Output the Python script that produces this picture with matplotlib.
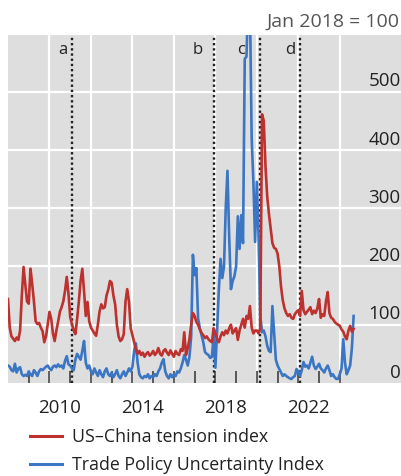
import numpy as np
import matplotlib
matplotlib.use("Agg")
import matplotlib.pyplot as plt
from matplotlib.lines import Line2D

plt.rcParams['font.family'] = ['Open Sans', 'DejaVu Sans']

# Monthly data, Jan 2008 onward (Jan 2018 = 100)
start_year = 2008
tension = [
    # 2008
    144, 95, 80, 76, 72, 78, 74, 90, 150, 199, 170, 140,
    # 2009
    136, 196, 170, 140, 106, 101, 103, 95, 89, 70, 80, 101,
    # 2010
    122, 110, 85, 72, 90, 105, 122, 130, 140, 158, 182, 153,
    # 2011
    113, 101, 90, 84, 110, 140, 175, 196, 158, 115, 139, 106,
    # 2012
    95, 90, 85, 81, 100, 123, 135, 128, 130, 150, 160, 175,
    # 2013
    172, 150, 135, 100, 80, 72, 75, 84, 140, 161, 140, 94,
    # 2014
    82, 70, 58, 50, 55, 48, 52, 45, 50, 53, 47, 50,
    # 2015
    55, 48, 52, 60, 50, 47, 55, 58, 52, 48, 56, 50,
    # 2016
    45, 55, 50, 48, 58, 55, 87, 48, 60, 75, 100, 120,
    # 2017
    115, 105, 100, 92, 86, 82, 77, 80, 75, 72, 70, 94,
    # 2018
    85, 75, 70, 80, 87, 82, 90, 85, 94, 100, 85, 90,
    # 2019
    94, 74, 90, 100, 110, 95, 115, 110, 132, 95, 85, 90,
    # 2020
    90, 85, 93, 461, 450, 372, 320, 290, 265, 240, 232, 230,
    # 2021
    222, 200, 165, 142, 128, 120, 115, 118, 112, 110, 118, 122,
    # 2022
    125, 115, 158, 125, 118, 122, 126, 130, 118, 124, 120, 128,
    # 2023
    144, 112, 118, 115, 140, 156, 120, 112, 110, 105, 102, 100,
    # 2024
    98, 92, 88, 80, 75, 90, 98, 88, 93,
]
tpu = [
    # 2008
    30, 28, 22, 20, 33, 18, 25, 27, 15, 12, 14, 12,
    # 2009
    20, 15, 12, 22, 18, 12, 20, 24, 22, 25, 28, 30,
    # 2010
    25, 22, 28, 30, 27, 32, 28, 30, 25, 38, 46, 32,
    # 2011
    30, 25, 22, 40, 50, 45, 40, 55, 72, 35, 25, 30,
    # 2012
    20, 15, 25, 18, 12, 22, 15, 10, 20, 25, 15, 12,
    # 2013
    18, 10, 15, 22, 12, 8, 15, 20, 12, 18, 25, 20,
    # 2014
    28, 55, 68, 35, 15, 10, 8, 12, 10, 15, 8, 12,
    # 2015
    10, 15, 12, 20, 25, 35, 41, 20, 12, 8, 15, 10,
    # 2016
    15, 12, 20, 18, 25, 35, 48, 40, 30, 45, 80, 220,
    # 2017
    185, 197, 111, 94, 82, 70, 53, 50, 48, 43, 45, 82,
    # 2018
    26, 90, 160, 213, 180, 200, 300, 364, 250, 161, 175, 183,
    # 2019
    200, 286, 230, 288, 240, 556, 560, 660, 650, 420, 345, 242,
    # 2020
    345, 250, 115, 87, 90, 80, 64, 55, 53, 132, 87, 40,
    # 2021
    30, 24, 18, 12, 15, 12, 10, 8, 7, 10, 12, 24,
    # 2022
    20, 12, 22, 36, 28, 30, 25, 35, 45, 30, 24, 28,
    # 2023
    33, 25, 22, 18, 25, 30, 22, 12, 15, 10, 7, 7,
    # 2024
    15, 25, 75, 35, 15, 22, 30, 60, 115,
]
event_dates = [2011.1, 2017.95, 2020.15, 2022.08]
event_labels = ['a', 'b', 'c', 'd']
event_label_x = [2010.65, 2017.16, 2019.25, 2021.6]
y_ticks = [0, 100, 200, 300, 400, 500]
x_label_years = [2010, 2014, 2018, 2022]

RED = '#bd312e'
BLUE = '#3a76c4'
BG = '#dedede'

fig = plt.figure(figsize=(4.02, 4.77), dpi=100)
W, H = 402, 477
ax = fig.add_axes([8 / W, 1 - 384 / H, (402 - 8) / W, (384 - 36) / H])
ax.set_facecolor(BG)
for s in ax.spines.values():
    s.set_visible(False)

t = start_year + np.arange(len(tension)) / 12.0
t2 = start_year + np.arange(len(tpu)) / 12.0

ax.set_xlim(2008, 2027)
ax.set_ylim(0, 597)

# grid
for yv in y_ticks[1:]:
    ax.axhline(yv, color='white', lw=1.6, zorder=1)
for xv in range(2010, 2025, 2):
    ax.axvline(xv, color='white', lw=1.6, zorder=1)

# year ticks (inside, at bottom)
ax.set_xticks(np.arange(2009, 2025), minor=True)
ax.tick_params(axis='x', which='minor', direction='in', length=9, width=1.1,
               color='#333333', bottom=True)
ax.set_xticks([y + 0.5 for y in x_label_years])
ax.set_xticklabels([str(y) for y in x_label_years])
ax.tick_params(axis='x', which='major', length=0, pad=11, labelsize=13.5,
               labelcolor='#222222')
ax.set_yticks([])

# event lines
for d, lab, lx in zip(event_dates, event_labels, event_label_x):
    ax.axvline(d, color='#222222', lw=1.7, linestyle=(0, (1, 1.2)), zorder=2)
    ax.text(lx, 573, lab, ha='center', va='center', fontsize=12,
            color='#222222', zorder=2)

ax.plot(t2, tpu, color=BLUE, lw=1.9, zorder=3, solid_joinstyle='round')
ax.plot(t, tension, color=RED, lw=1.9, zorder=4, solid_joinstyle='round')

# y labels on the right, sitting above their gridlines
for yv in y_ticks:
    ax.annotate(str(yv), xy=(1, yv), xycoords=('axes fraction', 'data'),
                xytext=(-1, 4.5), textcoords='offset points', ha='right',
                va='baseline', fontsize=13.5, color='#222222', zorder=5)

fig.text(400 / W, 1 - 22 / H, 'Jan 2018 = 100', ha='right', va='center',
         fontsize=14, color='#555555')

# legend
for yy, col, lab in [(437, RED, 'US–China tension index'),
                     (465, BLUE, 'Trade Policy Uncertainty Index')]:
    fig.add_artist(Line2D([30 / W, 62 / W], [1 - yy / H, 1 - yy / H],
                          color=col, lw=2.2, transform=fig.transFigure))
    fig.text(72 / W, 1 - yy / H, lab, ha='left', va='center', fontsize=12.8,
             color='#222222')

fig.savefig('out.png', dpi=100)
